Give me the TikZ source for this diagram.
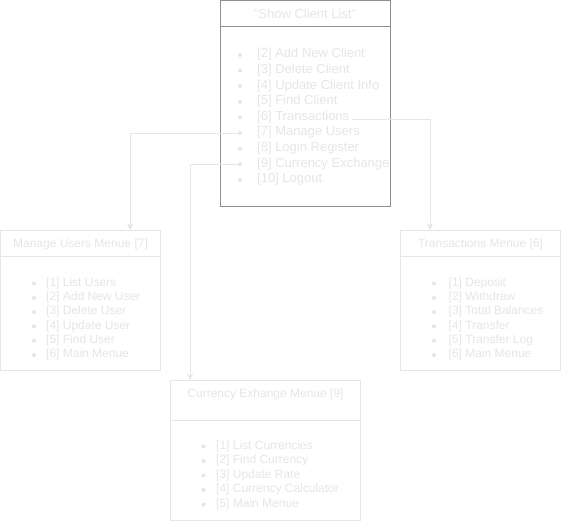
\documentclass[tikz,border=0pt]{standalone}
\usepackage{fontspec}
\setmainfont{Liberation Sans}
\usetikzlibrary{arrows.meta}
\definecolor{faint}{HTML}{E6E6E6}
\definecolor{frame}{HTML}{909090}

\begin{document}
\begin{tikzpicture}
  [x=1pt,y=-1pt,
   menu/.style={draw=faint, inner sep=0pt, minimum width=160pt, minimum height=140pt},
   head/.style={text=faint, inner sep=0pt, font=\fontsize{12}{14}\selectfont},
   item/.style={anchor=west, inner sep=0pt, text=faint, font=\fontsize{12}{14}\selectfont},
   dot/.style={circle, fill=faint, inner sep=0pt, minimum size=4pt},
   link/.style={draw=faint, -{Stealth[length=7pt,width=6pt]}}]
  \fill[white] (0,0) rectangle (561,524);

  % main menu
  \node[draw=frame, inner sep=0pt, minimum width=170pt, minimum height=206pt] (main) at (305,103.5) {};
  \draw[frame] ([yshift=-25.5pt]main.north west) -- ([yshift=-25.5pt]main.north east);
  \node[head, font=\fontsize{13}{15}\selectfont] (mainT) at (305,14) {"Show Client List"};
  \foreach \k/\t in {2/Add New Client, 3/Delete Client, 4/Update Client Info, 5/Find Client,
      6/Transactions, 7/Manage Users, 8/Login Register, 9/Currency Exchange, 10/Logout} {
    \node[dot] (b\k) at (240,{39.4+15.6*(\k-1)}) {};
    \node[item, font=\fontsize{13}{15}\selectfont] (m\k) at (257,{38.9+15.6*(\k-1)}) {[\k] \t};
  }

  % manage users
  \node[menu] (mu) at (80.5,300.5) {};
  \draw[faint] ([yshift=-25.5pt]mu.north west) -- ([yshift=-25.5pt]mu.north east);
  \node[head] (muT) at (80.5,244) {Manage Users Menue [7]};
  \foreach \k/\t in {1/List Users, 2/Add New User, 3/Delete User, 4/Update User,
      5/Find User, 6/Main Menue} {
    \node[dot] (ub\k) at (34,{283.5+14.3*(\k-1)}) {};
    \node[item] (u\k) at (46,{283.2+14.3*(\k-1)}) {[\k] \t};
  }

  % transactions
  \node[menu] (tr) at (480.5,300.5) {};
  \draw[faint] ([yshift=-25.5pt]tr.north west) -- ([yshift=-25.5pt]tr.north east);
  \node[head] (trT) at (480.5,244) {Transactions Menue [6]};
  \foreach \k/\t in {1/Deposit, 2/Withdraw, 3/Total Balances, 4/Transfer,
      5/Transfer Log, 6/Main Menue} {
    \node[dot] (tb\k) at (434,{283.5+14.3*(\k-1)}) {};
    \node[item] (t\k) at (448.5,{283.2+14.3*(\k-1)}) {[\k] \t};
  }

  % currency exchange
  \node[menu, minimum width=190pt] (cx) at (265.5,450.5) {};
  \draw[faint] ([yshift=-39.5pt]cx.north west) -- ([yshift=-39.5pt]cx.north east);
  \node[head] (cxT) at (265.5,394) {Currency Exhange Menue [9]};
  \foreach \k/\t in {1/List Currencies, 2/Find Currency, 3/Update Rate,
      4/Currency Calculator, 5/Main Menue} {
    \node[dot] (xb\k) at (203.5,{446.5+14.5*(\k-1)}) {};
    \node[item] (x\k) at (216,{446.2+14.5*(\k-1)}) {[\k] \t};
  }

  % links
  \draw[link] (b7.east) -| ([xshift=49.5pt]mu.north);
  \draw[link] ([xshift=3pt,yshift=-2pt]m6.east) -| ([xshift=-50.5pt]tr.north);
  \draw[link] (b9.east) -| ([xshift=-75.5pt]cx.north);
\end{tikzpicture}
\end{document}
